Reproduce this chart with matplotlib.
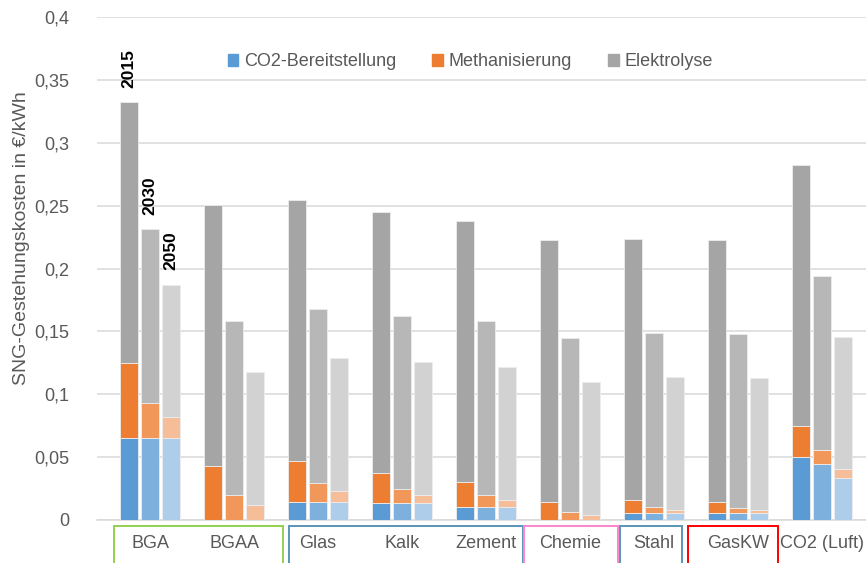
import numpy as np
import matplotlib
matplotlib.use("Agg")
import matplotlib.pyplot as plt
from matplotlib.patches import Rectangle
from matplotlib import transforms

plt.rcParams['font.family'] = ['Liberation Sans', 'DejaVu Sans']

categories = ['BGA', 'BGAA', 'Glas', 'Kalk', 'Zement', 'Chemie', 'Stahl', 'GasKW', 'CO2 (Luft)']
years = ['2015', '2030', '2050']
components = ['CO2-Bereitstellung', 'Methanisierung', 'Elektrolyse']

# segment heights in EUR/kWh, per year and cost component
co2_2015 = [0.0655, 0.0, 0.0145, 0.0133, 0.0106, 0.0, 0.0053, 0.0053, 0.0502]
meth_2015 = [0.0591, 0.0428, 0.0325, 0.0237, 0.0197, 0.0145, 0.0105, 0.0092, 0.0243]
elek_2015 = [0.2077, 0.2077, 0.2077, 0.2077, 0.2077, 0.2078, 0.2078, 0.2078, 0.2076]

co2_2030 = [0.0655, 0.0, 0.0145, 0.0133, 0.0106, 0.0, 0.0053, 0.0053, 0.0444]
meth_2030 = [0.0274, 0.0198, 0.0150, 0.0110, 0.0090, 0.0066, 0.0048, 0.0044, 0.0116]
elek_2030 = [0.1382, 0.1384, 0.1382, 0.1381, 0.1383, 0.1382, 0.1383, 0.1382, 0.1381]

co2_2050 = [0.0655, 0.0, 0.0145, 0.0133, 0.0106, 0.0, 0.0053, 0.0053, 0.0335]
meth_2050 = [0.0161, 0.0117, 0.0087, 0.0065, 0.0052, 0.0037, 0.0026, 0.0026, 0.0067]
elek_2050 = [0.1054, 0.1056, 0.1060, 0.1056, 0.1060, 0.1057, 0.1057, 0.1054, 0.1050]

series = {
    '2015': (co2_2015, meth_2015, elek_2015),
    '2030': (co2_2030, meth_2030, elek_2030),
    '2050': (co2_2050, meth_2050, elek_2050),
}

# colour shades: darkest for 2015, lighter for later years
colors = {
    '2015': ['#5B9BD5', '#ED7D31', '#A5A5A5'],
    '2030': ['#7EB0DE', '#F1975A', '#B7B7B7'],
    '2050': ['#ADCDEA', '#F6BE98', '#D2D2D2'],
}

fig = plt.figure(figsize=(8.66, 5.63), dpi=100)
ax = fig.add_axes([97 / 866, 43 / 563, 769 / 866, 503 / 563])

x = np.arange(len(categories))
offsets = [-0.25, 0.0, 0.25]
width = 0.205

for yr, off in zip(years, offsets):
    bottom = np.zeros(len(categories))
    for vals, col in zip(series[yr], colors[yr]):
        v = np.array(vals)
        ax.bar(x + off, v, width, bottom=bottom, color=col,
               edgecolor='#EDEDED', linewidth=0.6, zorder=3)
        bottom += v
    # year label above the first group's bar
    ax.text(x[0] + off, bottom[0] + 0.0115, yr, rotation=90, ha='center',
            va='bottom', fontsize=12.5, fontweight='bold', color='black', zorder=4)

ax.set_ylim(0, 0.4)
ax.set_xlim(-0.631, 8.524)
yt = np.arange(0, 0.4001, 0.05)
ax.set_yticks(yt)
ax.set_yticklabels(['0' if t == 0 else ('%g' % round(t, 2)).replace('.', ',') for t in yt])
ax.tick_params(axis='y', length=0, pad=20, labelsize=13, labelcolor='#595959')
ax.set_xticks(x)
ax.set_xticklabels(categories)
ax.tick_params(axis='x', length=0, pad=11, labelsize=13, labelcolor='#595959')

ax.grid(axis='y', color='#D9D9D9', linewidth=1.1, zorder=0)
ax.set_axisbelow(True)
for s in ['top', 'right', 'left']:
    ax.spines[s].set_visible(False)
ax.spines['bottom'].set_color('#D9D9D9')
ax.spines['bottom'].set_linewidth(1.1)

fig.text(22 / 866, 1 - 238 / 563, 'SNG-Gestehungskosten in €/kWh', rotation=90,
         ha='center', va='center', fontsize=14, color='#595959')

# legend
handles = [Rectangle((0, 0), 1, 1, color=c) for c in colors['2015']]
fig.legend(handles, components, loc='center', ncol=3,
           bbox_to_anchor=(470 / 866, 1 - 62 / 563), frameon=False,
           fontsize=13, labelcolor='#595959', handlelength=0.6, handleheight=0.6,
           handletextpad=0.3, columnspacing=2.0)

# coloured frames grouping the category labels
trans = transforms.blended_transform_factory(ax.transData, ax.transAxes)
groups = [(-0.425, 1.583, '#92D050'),
          (1.658, 4.437, '#5B95B8'),
          (4.452, 5.571, '#FF85CC'),
          (5.599, 6.337, '#5B95B8'),
          (6.401, 7.473, '#FF0000')]
for x0, x1, col in groups:
    ax.add_patch(Rectangle((x0, -0.2), x1 - x0, 0.2 - 0.0113, transform=trans,
                           fill=False, edgecolor=col, linewidth=1.4, clip_on=False))

fig.savefig('out.png', dpi=100)
